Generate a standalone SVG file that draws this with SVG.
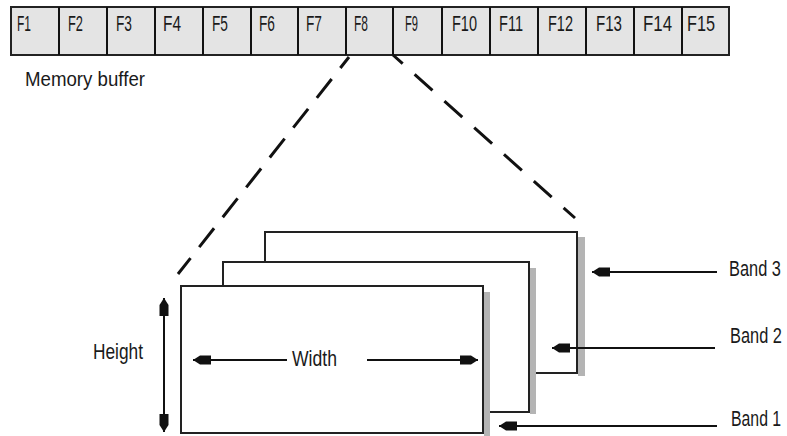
<svg xmlns="http://www.w3.org/2000/svg" width="787" height="436" viewBox="0 0 787 436">
<defs>
<style>
.t{font-family:"Liberation Sans",Arial,sans-serif;font-size:22px;fill:#1a1a1a;}
.cell{fill:#e4e4e4;stroke:#222;stroke-width:2;}
.band{fill:#fff;stroke:#222;stroke-width:2;}
.shadow{fill:#b4b4b4;}
.ln{stroke:#111;stroke-width:2;fill:none;}
.dash{stroke:#111;stroke-width:3;fill:none;stroke-dasharray:24 14;}
</style>
<marker id="head" viewBox="0 0 18 10" refX="18" refY="5" markerWidth="18" markerHeight="10" markerUnits="userSpaceOnUse" orient="auto-start-reverse">
<path d="M18,5 L11,0.5 L0,0.5 L0,9.5 L11,9.5 Z" fill="#111"/>
</marker>
</defs>
<rect width="787" height="436" fill="#fff"/>

<g id="memory-buffer">
<rect class="cell" x="11" y="7" width="718" height="48"/>
<g class="ln">
<line x1="59" y1="7" x2="59" y2="55"/><line x1="107" y1="7" x2="107" y2="55"/>
<line x1="155" y1="7" x2="155" y2="55"/><line x1="203" y1="7" x2="203" y2="55"/>
<line x1="251" y1="7" x2="251" y2="55"/><line x1="298" y1="7" x2="298" y2="55"/>
<line x1="346" y1="7" x2="346" y2="55"/><line x1="393" y1="7" x2="393" y2="55"/>
<line x1="442" y1="7" x2="442" y2="55"/><line x1="490" y1="7" x2="490" y2="55"/>
<line x1="538" y1="7" x2="538" y2="55"/><line x1="586" y1="7" x2="586" y2="55"/>
<line x1="634" y1="7" x2="634" y2="55"/><line x1="682" y1="7" x2="682" y2="55"/>
</g>
<text class="t" x="17" y="31" textLength="14" lengthAdjust="spacingAndGlyphs">F1</text>
<text class="t" x="68" y="31" textLength="15" lengthAdjust="spacingAndGlyphs">F2</text>
<text class="t" x="116" y="31" textLength="16" lengthAdjust="spacingAndGlyphs">F3</text>
<text class="t" x="163" y="31" textLength="18" lengthAdjust="spacingAndGlyphs">F4</text>
<text class="t" x="212" y="31" textLength="16" lengthAdjust="spacingAndGlyphs">F5</text>
<text class="t" x="259" y="31" textLength="16" lengthAdjust="spacingAndGlyphs">F6</text>
<text class="t" x="306" y="31" textLength="16" lengthAdjust="spacingAndGlyphs">F7</text>
<text class="t" x="354" y="31" textLength="14" lengthAdjust="spacingAndGlyphs">F8</text>
<text class="t" x="405" y="31" textLength="13" lengthAdjust="spacingAndGlyphs">F9</text>
<text class="t" x="452" y="31" textLength="25" lengthAdjust="spacingAndGlyphs">F10</text>
<text class="t" x="499" y="31" textLength="24" lengthAdjust="spacingAndGlyphs">F11</text>
<text class="t" x="548" y="31" textLength="25" lengthAdjust="spacingAndGlyphs">F12</text>
<text class="t" x="596" y="31" textLength="26" lengthAdjust="spacingAndGlyphs">F13</text>
<text class="t" x="643" y="31" textLength="29" lengthAdjust="spacingAndGlyphs">F14</text>
<text class="t" x="687" y="31" textLength="28" lengthAdjust="spacingAndGlyphs">F15</text>
<text class="t" x="25" y="86" textLength="120" lengthAdjust="spacingAndGlyphs" style="font-size:20px">Memory buffer</text>
</g>

<g id="band-3">
<rect class="shadow" x="578" y="237" width="7" height="139"/>
<rect class="band" x="265" y="232" width="312" height="141"/>
</g>
<g id="band-2">
<rect class="shadow" x="530" y="268" width="6" height="146"/>
<rect class="band" x="223" y="262" width="306" height="150"/>
</g>
<g id="band-1">
<rect class="shadow" x="484" y="292" width="6" height="144"/>
<rect class="band" x="181" y="286" width="302" height="147"/>
</g>

<g id="labels">
<text class="t" x="93" y="359" textLength="50" lengthAdjust="spacingAndGlyphs">Height</text>
<text class="t" x="292" y="366" textLength="45" lengthAdjust="spacingAndGlyphs">Width</text>
<text class="t" transform="translate(729,276) scale(0.745,1)">Band 3</text>
<text class="t" transform="translate(730,343) scale(0.745,1)">Band 2</text>
<text class="t" transform="translate(731,426) scale(0.72,1)">Band 1</text>
</g>

<g id="connectors">
<line class="dash" x1="349" y1="57" x2="178" y2="274" style="stroke-dashoffset:10"/>
<line class="dash" x1="393" y1="55" x2="575" y2="218" style="stroke-dasharray:24 16;stroke-dashoffset:11"/>
<line class="ln" x1="164" y1="298" x2="164" y2="432" marker-start="url(#head)" marker-end="url(#head)"/>
<line class="ln" x1="287" y1="360" x2="193" y2="360" marker-end="url(#head)"/>
<line class="ln" x1="367" y1="360" x2="478" y2="360" marker-end="url(#head)"/>
<line class="ln" x1="717" y1="272" x2="592" y2="272" marker-end="url(#head)"/>
<line class="ln" x1="715" y1="348" x2="552" y2="348" marker-end="url(#head)"/>
<line class="ln" x1="717" y1="426" x2="499" y2="426" marker-end="url(#head)"/>
</g>
</svg>
